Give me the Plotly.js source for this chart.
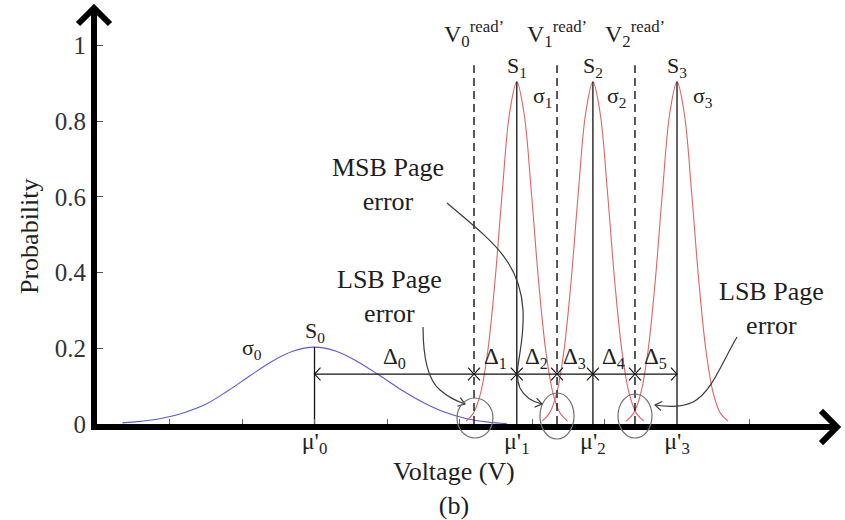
<!DOCTYPE html>
<html><head><meta charset="utf-8">
<script src="https://cdn.plot.ly/plotly-3.0.1.min.js"></script>
<style>html,body{margin:0;padding:0;background:#fff}#chart{width:845px;height:520px}</style>
</head><body><div id="chart"></div>
<script>
// ---- data ----
const blueX = [0.35, 0.6, 0.9, 1.2, 1.5, 1.8, 2.1, 2.4, 2.7, 3.0, 3.3, 3.6, 3.9, 4.2, 4.5, 4.8, 5.1, 5.4, 5.65];
const blueY = [0.003, 0.007, 0.015, 0.030, 0.052, 0.087, 0.126, 0.164, 0.192, 0.203, 0.192, 0.164, 0.128, 0.090, 0.057, 0.031, 0.014, 0.005, 0.001];

const red1X = [5.09, 5.19, 5.29, 5.39, 5.49, 5.59, 5.69, 5.79, 5.89, 5.99, 6.09, 6.19, 6.29, 6.39, 6.49];
const red1Y = [0.008, 0.028, 0.081, 0.193, 0.379, 0.615, 0.821, 0.904, 0.821, 0.615, 0.379, 0.193, 0.081, 0.028, 0.008];
const red2X = [6.14, 6.24, 6.34, 6.44, 6.54, 6.64, 6.74, 6.84, 6.94, 7.04, 7.14, 7.24, 7.34, 7.44, 7.54];
const red2Y = [0.008, 0.028, 0.081, 0.193, 0.379, 0.615, 0.821, 0.904, 0.821, 0.615, 0.379, 0.193, 0.081, 0.028, 0.008];
const red3X = [7.30, 7.40, 7.50, 7.60, 7.70, 7.80, 7.90, 8.00, 8.10, 8.20, 8.30, 8.40, 8.50, 8.60, 8.70];
const red3Y = [0.008, 0.028, 0.081, 0.193, 0.379, 0.615, 0.821, 0.904, 0.821, 0.615, 0.379, 0.193, 0.081, 0.028, 0.008];

const muX = [3.0, 5.79, 6.84, 8.0];
const muTop = [0.203, 0.904, 0.904, 0.904];
const muLabels = ["μ'<sub>0</sub>", "μ'<sub>1</sub>", "μ'<sub>2</sub>", "μ'<sub>3</sub>"];
const stateLabels = ["S<sub>0</sub>", "S<sub>1</sub>", "S<sub>2</sub>", "S<sub>3</sub>"];

const readX = [5.2, 6.345, 7.42];
const readTop = [0.948, 0.948, 0.948];
const readLabels = ["V<sub>0</sub><sup>read’</sup>", "V<sub>1</sub><sup>read’</sup>", "V<sub>2</sub><sup>read’</sup>"];

const deltaX = [3.0, 5.2, 5.79, 6.345, 6.84, 7.42, 8.0];
const deltaLevel = 0.132;
const deltaLabels = ["Δ<sub>0</sub>", "Δ<sub>1</sub>", "Δ<sub>2</sub>", "Δ<sub>3</sub>", "Δ<sub>4</sub>", "Δ<sub>5</sub>"];

const sigmaLabels = ["σ<sub>0</sub>", "σ<sub>1</sub>", "σ<sub>2</sub>", "σ<sub>3</sub>"];
const sigmaX = [2.14, 6.15, 7.17, 8.36];
const sigmaY = [0.198, 0.864, 0.864, 0.864];

const yTicks = [0, 0.2, 0.4, 0.6, 0.8, 1];
const xMinorTicks = [1, 2, 3, 4, 5, 6, 7, 8, 9];

const callouts = [
  {text: "MSB Page<br>error", x: 4.01, y: 0.634},
  {text: "LSB Page<br>error", x: 4.03, y: 0.338},
  {text: "LSB Page<br>error", x: 9.31, y: 0.306}
];

// ---- styles ----
const FONT = "Liberation Serif, Times New Roman, serif";
const TXT = "#1e1e1e";
const chevDx = 0.083, chevDy = 0.017;

const traces = [];
traces.push({x: blueX, y: blueY, mode: "lines", line: {color: "#5a5ad8", width: 1.1, shape: "spline"}, hoverinfo: "skip"});
[[red1X, red1Y], [red2X, red2Y], [red3X, red3Y]].forEach(function (r) {
  traces.push({x: r[0], y: r[1], mode: "lines", line: {color: "#e06464", width: 1.1, shape: "spline"}, hoverinfo: "skip"});
});
// vertical mean lines
const mx = [], my = [];
muX.forEach(function (v, i) { mx.push(v, v, null); my.push(0, muTop[i], null); });
traces.push({x: mx, y: my, xaxis: "x2", mode: "lines", line: {color: "#111", width: 1.3}, hoverinfo: "skip"});
// dashed read-voltage lines
const rx = [], ry = [];
readX.forEach(function (v, i) { rx.push(v, v, null); ry.push(0, readTop[i], null); });
traces.push({x: rx, y: ry, mode: "lines", line: {color: "#111", width: 1.4, dash: "8px,5px"}, hoverinfo: "skip"});
// delta horizontal line
traces.push({x: [deltaX[0], deltaX[deltaX.length - 1]], y: [deltaLevel, deltaLevel], mode: "lines", line: {color: "#111", width: 1.2}, hoverinfo: "skip"});

const shapes = [];
// double-headed chevrons for each delta segment
for (let i = 0; i < deltaX.length - 1; i++) {
  const a = deltaX[i], b = deltaX[i + 1];
  shapes.push({type: "path", xref: "x", yref: "y", line: {color: "#111", width: 1.1},
    path: "M" + (a + chevDx) + "," + (deltaLevel + chevDy) + "L" + a + "," + deltaLevel + "L" + (a + chevDx) + "," + (deltaLevel - chevDy)});
  shapes.push({type: "path", xref: "x", yref: "y", line: {color: "#111", width: 1.1},
    path: "M" + (b - chevDx) + "," + (deltaLevel + chevDy) + "L" + b + "," + deltaLevel + "L" + (b - chevDx) + "," + (deltaLevel - chevDy)});
}
const CURVE = {color: "#3a3a3a", width: 1.2};
// MSB callout curve + head
shapes.push({type: "path", xref: "x", yref: "y", line: CURVE,
  path: "M4.828,0.5839 C5.421,0.4861 5.834,0.4333 5.876,0.3012 C5.903,0.1955 5.724,0.1427 5.834,0.0951 C5.903,0.0687 6.014,0.0581 6.138,0.0528"});
shapes.push({type: "path", xref: "x", yref: "y", line: CURVE, path: "M6.063,0.0684 L6.138,0.0528 L6.036,0.0447"});
// left LSB callout
shapes.push({type: "path", xref: "x", yref: "y", line: CURVE,
  path: "M4.497,0.2563 C4.497,0.1691 4.566,0.1162 4.731,0.0898 C4.841,0.0713 4.952,0.0608 5.076,0.0528"});
shapes.push({type: "path", xref: "x", yref: "y", line: CURVE, path: "M5.010,0.0697 L5.076,0.0528 L4.970,0.0468"});
// right LSB callout
shapes.push({type: "path", xref: "x", yref: "y", line: CURVE,
  path: "M8.828,0.2299 C8.621,0.1638 8.483,0.0845 8.221,0.0581 C8.083,0.0449 7.876,0.0449 7.697,0.0502"});
shapes.push({type: "path", xref: "x", yref: "y", line: CURVE, path: "M7.777,0.0357 L7.697,0.0502 L7.796,0.0594"});
// circles around the overlap regions
const CIRC = {color: "#6e6e6e", width: 1.2};
shapes.push({type: "circle", xref: "paper", yref: "paper", x0: 0.5042, x1: 0.5546, y0: -0.0342, y1: 0.0636, line: CIRC});
shapes.push({type: "circle", xref: "paper", yref: "paper", x0: 0.6204, x1: 0.6681, y0: -0.0367, y1: 0.0758, line: CIRC});
shapes.push({type: "circle", xref: "paper", yref: "paper", x0: 0.7297, x1: 0.7773, y0: -0.0342, y1: 0.0733, line: CIRC});
// axis arrowheads
shapes.push({type: "path", xref: "paper", yref: "paper", line: {color: "#000", width: 6},
  path: "M-0.0042,0.9927 L-0.0042,1.0171 M-0.0266,0.9780 L-0.0042,1.0171 L0.0182,0.9780"});
shapes.push({type: "path", xref: "paper", yref: "paper", line: {color: "#000", width: 6},
  path: "M0.9958,-0.00733 L1.0336,-0.00733 M1.0140,0.0318 L1.0364,-0.00733 L1.0140,-0.0465"});

const annotations = [];
function lab(text, x, y, size) {
  annotations.push({text: text, x: x, y: y, xref: "x", yref: "y", showarrow: false,
    xanchor: "center", yanchor: "middle", font: {family: FONT, size: size, color: TXT}});
}
stateLabels.forEach(function (t, i) { lab(t, muX[i], muTop[i] + 0.04, 22); });
sigmaLabels.forEach(function (t, i) { lab(t, sigmaX[i], sigmaY[i], 22); });
readLabels.forEach(function (t, i) { lab(t, readX[i], 1.03, 24); });
deltaLabels.forEach(function (t, i) { lab(t, (deltaX[i] + deltaX[i + 1]) / 2, deltaLevel + 0.043, 23); });
callouts.forEach(function (c) { lab(c.text, c.x, c.y, 26); });
// y-axis title
annotations.push({text: "Probability", xref: "paper", yref: "paper", x: -0.0938, y: 0.4597,
  textangle: -90, showarrow: false, xanchor: "center", yanchor: "middle",
  font: {family: FONT, size: 26, color: TXT}});

const layout = {
  width: 845, height: 520,
  margin: {l: 97, r: 34, t: 15, b: 96},
  paper_bgcolor: "#fff", plot_bgcolor: "#fff",
  showlegend: false,
  font: {family: FONT, color: TXT},
  xaxis: {range: [0, 9.848], tickmode: "array", tickvals: xMinorTicks, ticks: "inside", ticklen: 5,
    tickwidth: 1, tickcolor: "#666", showticklabels: false,
    showline: true, linewidth: 6, linecolor: "#000", showgrid: false, zeroline: false,
    title: {text: "Voltage (V)<br>(b)", standoff: 36, font: {family: FONT, size: 26, color: TXT}}},
  xaxis2: {range: [0, 9.848], overlaying: "x", anchor: "y", side: "bottom", tickmode: "array",
    tickvals: muX, ticktext: muLabels, ticks: "", ticklabelstandoff: 0,
    tickfont: {family: FONT, size: 24, color: TXT},
    showline: false, showgrid: false, zeroline: false},
  yaxis: {range: [0, 1.0806], tickmode: "array", tickvals: yTicks, ticks: "inside", ticklen: 6,
    tickwidth: 1, tickcolor: "#555", showline: true, linewidth: 6, linecolor: "#000",
    showgrid: false, zeroline: false, tickfont: {family: FONT, size: 25, color: "#333"}},
  shapes: shapes,
  annotations: annotations
};
Plotly.newPlot("chart", traces, layout, {staticPlot: true, displayModeBar: false});
</script>
</body></html>
